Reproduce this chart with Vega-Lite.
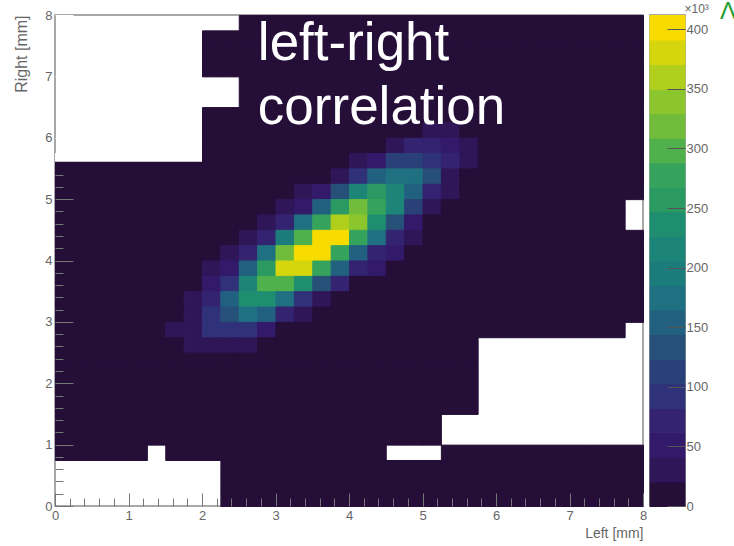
{"$schema":"https://vega.github.io/schema/vega-lite/v6.json","autosize":"none","padding":{"left":55,"top":15,"right":679,"bottom":531},"background":"white","config":{"font":"Liberation Sans","view":{"stroke":"#8c8c8c","strokeWidth":1.5}},"datasets":{"cells":[
{"l":2.5,"r":7.75,"n":5},{"l":2.75,"r":7.75,"n":5},{"l":3,"r":7.75,"n":5},{"l":3.25,"r":7.75,"n":5},{"l":3.5,"r":7.75,"n":5},{"l":3.75,"r":7.75,"n":5},{"l":4,"r":7.75,"n":5},{"l":4.25,"r":7.75,"n":5},{"l":4.5,"r":7.75,"n":5},{"l":4.75,"r":7.75,"n":5},{"l":5,"r":7.75,"n":5},{"l":5.25,"r":7.75,"n":5},{"l":5.5,"r":7.75,"n":5},{"l":5.75,"r":7.75,"n":5},{"l":6,"r":7.75,"n":5},{"l":6.25,"r":7.75,"n":5},{"l":6.5,"r":7.75,"n":5},{"l":6.75,"r":7.75,"n":5},{"l":7,"r":7.75,"n":5},{"l":7.25,"r":7.75,"n":5},{"l":7.5,"r":7.75,"n":5},{"l":7.75,"r":7.75,"n":5},
{"l":2,"r":7.5,"n":5},{"l":2.25,"r":7.5,"n":5},{"l":2.5,"r":7.5,"n":5},{"l":2.75,"r":7.5,"n":5},{"l":3,"r":7.5,"n":5},{"l":3.25,"r":7.5,"n":5},{"l":3.5,"r":7.5,"n":5},{"l":3.75,"r":7.5,"n":5},{"l":4,"r":7.5,"n":5},{"l":4.25,"r":7.5,"n":5},{"l":4.5,"r":7.5,"n":5},{"l":4.75,"r":7.5,"n":5},{"l":5,"r":7.5,"n":5},{"l":5.25,"r":7.5,"n":5},{"l":5.5,"r":7.5,"n":5},{"l":5.75,"r":7.5,"n":5},{"l":6,"r":7.5,"n":5},{"l":6.25,"r":7.5,"n":5},{"l":6.5,"r":7.5,"n":5},{"l":6.75,"r":7.5,"n":5},{"l":7,"r":7.5,"n":5},{"l":7.25,"r":7.5,"n":5},{"l":7.5,"r":7.5,"n":5},{"l":7.75,"r":7.5,"n":5},
{"l":2,"r":7.25,"n":5},{"l":2.25,"r":7.25,"n":5},{"l":2.5,"r":7.25,"n":5},{"l":2.75,"r":7.25,"n":5},{"l":3,"r":7.25,"n":5},{"l":3.25,"r":7.25,"n":5},{"l":3.5,"r":7.25,"n":5},{"l":3.75,"r":7.25,"n":5},{"l":4,"r":7.25,"n":5},{"l":4.25,"r":7.25,"n":5},{"l":4.5,"r":7.25,"n":5},{"l":4.75,"r":7.25,"n":5},{"l":5,"r":7.25,"n":5},{"l":5.25,"r":7.25,"n":5},{"l":5.5,"r":7.25,"n":5},{"l":5.75,"r":7.25,"n":5},{"l":6,"r":7.25,"n":5},{"l":6.25,"r":7.25,"n":5},{"l":6.5,"r":7.25,"n":5},{"l":6.75,"r":7.25,"n":5},{"l":7,"r":7.25,"n":5},{"l":7.25,"r":7.25,"n":5},{"l":7.5,"r":7.25,"n":5},{"l":7.75,"r":7.25,"n":5},
{"l":2,"r":7,"n":5},{"l":2.25,"r":7,"n":5},{"l":2.5,"r":7,"n":5},{"l":2.75,"r":7,"n":5},{"l":3,"r":7,"n":5},{"l":3.25,"r":7,"n":5},{"l":3.5,"r":7,"n":5},{"l":3.75,"r":7,"n":5},{"l":4,"r":7,"n":5},{"l":4.25,"r":7,"n":5},{"l":4.5,"r":7,"n":5},{"l":4.75,"r":7,"n":5},{"l":5,"r":7,"n":5},{"l":5.25,"r":7,"n":5},{"l":5.5,"r":7,"n":5},{"l":5.75,"r":7,"n":5},{"l":6,"r":7,"n":5},{"l":6.25,"r":7,"n":5},{"l":6.5,"r":7,"n":5},{"l":6.75,"r":7,"n":5},{"l":7,"r":7,"n":5},{"l":7.25,"r":7,"n":5},{"l":7.5,"r":7,"n":5},{"l":7.75,"r":7,"n":5},
{"l":2.5,"r":6.75,"n":5},{"l":2.75,"r":6.75,"n":5},{"l":3,"r":6.75,"n":5},{"l":3.25,"r":6.75,"n":5},{"l":3.5,"r":6.75,"n":5},{"l":3.75,"r":6.75,"n":5},{"l":4,"r":6.75,"n":5},{"l":4.25,"r":6.75,"n":5},{"l":4.5,"r":6.75,"n":5},{"l":4.75,"r":6.75,"n":5},{"l":5,"r":6.75,"n":5},{"l":5.25,"r":6.75,"n":5},{"l":5.5,"r":6.75,"n":5},{"l":5.75,"r":6.75,"n":5},{"l":6,"r":6.75,"n":5},{"l":6.25,"r":6.75,"n":5},{"l":6.5,"r":6.75,"n":5},{"l":6.75,"r":6.75,"n":5},{"l":7,"r":6.75,"n":5},{"l":7.25,"r":6.75,"n":5},{"l":7.5,"r":6.75,"n":5},{"l":7.75,"r":6.75,"n":5},
{"l":2.5,"r":6.5,"n":5},{"l":2.75,"r":6.5,"n":5},{"l":3,"r":6.5,"n":5},{"l":3.25,"r":6.5,"n":5},{"l":3.5,"r":6.5,"n":5},{"l":3.75,"r":6.5,"n":5},{"l":4,"r":6.5,"n":5},{"l":4.25,"r":6.5,"n":5},{"l":4.5,"r":6.5,"n":5},{"l":4.75,"r":6.5,"n":5},{"l":5,"r":6.5,"n":5},{"l":5.25,"r":6.5,"n":5},{"l":5.5,"r":6.5,"n":5},{"l":5.75,"r":6.5,"n":5},{"l":6,"r":6.5,"n":5},{"l":6.25,"r":6.5,"n":5},{"l":6.5,"r":6.5,"n":5},{"l":6.75,"r":6.5,"n":5},{"l":7,"r":6.5,"n":5},{"l":7.25,"r":6.5,"n":5},{"l":7.5,"r":6.5,"n":5},{"l":7.75,"r":6.5,"n":5},
{"l":2,"r":6.25,"n":5},{"l":2.25,"r":6.25,"n":5},{"l":2.5,"r":6.25,"n":5},{"l":2.75,"r":6.25,"n":5},{"l":3,"r":6.25,"n":5},{"l":3.25,"r":6.25,"n":5},{"l":3.5,"r":6.25,"n":5},{"l":3.75,"r":6.25,"n":5},{"l":4,"r":6.25,"n":5},{"l":4.25,"r":6.25,"n":5},{"l":4.5,"r":6.25,"n":5},{"l":4.75,"r":6.25,"n":5},{"l":5,"r":6.25,"n":5},{"l":5.25,"r":6.25,"n":5},{"l":5.5,"r":6.25,"n":5},{"l":5.75,"r":6.25,"n":5},{"l":6,"r":6.25,"n":5},{"l":6.25,"r":6.25,"n":5},{"l":6.5,"r":6.25,"n":5},{"l":6.75,"r":6.25,"n":5},{"l":7,"r":6.25,"n":5},{"l":7.25,"r":6.25,"n":5},{"l":7.5,"r":6.25,"n":5},{"l":7.75,"r":6.25,"n":5},
{"l":2,"r":6,"n":5},{"l":2.25,"r":6,"n":5},{"l":2.5,"r":6,"n":5},{"l":2.75,"r":6,"n":5},{"l":3,"r":6,"n":5},{"l":3.25,"r":6,"n":5},{"l":3.5,"r":6,"n":5},{"l":3.75,"r":6,"n":5},{"l":4,"r":6,"n":5},{"l":4.25,"r":6,"n":5},{"l":4.5,"r":6,"n":5},{"l":4.75,"r":6,"n":5},{"l":5,"r":6,"n":31},{"l":5.25,"r":6,"n":31},{"l":5.5,"r":6,"n":5},{"l":5.75,"r":6,"n":5},{"l":6,"r":6,"n":5},{"l":6.25,"r":6,"n":5},{"l":6.5,"r":6,"n":5},{"l":6.75,"r":6,"n":5},{"l":7,"r":6,"n":5},{"l":7.25,"r":6,"n":5},{"l":7.5,"r":6,"n":5},{"l":7.75,"r":6,"n":5},
{"l":2,"r":5.75,"n":5},{"l":2.25,"r":5.75,"n":5},{"l":2.5,"r":5.75,"n":5},{"l":2.75,"r":5.75,"n":5},{"l":3,"r":5.75,"n":5},{"l":3.25,"r":5.75,"n":5},{"l":3.5,"r":5.75,"n":5},{"l":3.75,"r":5.75,"n":5},{"l":4,"r":5.75,"n":5},{"l":4.25,"r":5.75,"n":5},{"l":4.5,"r":5.75,"n":31},{"l":4.75,"r":5.75,"n":72},{"l":5,"r":5.75,"n":72},{"l":5.25,"r":5.75,"n":51},{"l":5.5,"r":5.75,"n":31},{"l":5.75,"r":5.75,"n":5},{"l":6,"r":5.75,"n":5},{"l":6.25,"r":5.75,"n":5},{"l":6.5,"r":5.75,"n":5},{"l":6.75,"r":5.75,"n":5},{"l":7,"r":5.75,"n":5},{"l":7.25,"r":5.75,"n":5},{"l":7.5,"r":5.75,"n":5},{"l":7.75,"r":5.75,"n":5},
{"l":0,"r":5.5,"n":5},{"l":0.25,"r":5.5,"n":5},{"l":0.5,"r":5.5,"n":5},{"l":0.75,"r":5.5,"n":5},{"l":1,"r":5.5,"n":5},{"l":1.25,"r":5.5,"n":5},{"l":1.5,"r":5.5,"n":5},{"l":1.75,"r":5.5,"n":5},{"l":2,"r":5.5,"n":5},{"l":2.25,"r":5.5,"n":5},{"l":2.5,"r":5.5,"n":5},{"l":2.75,"r":5.5,"n":5},{"l":3,"r":5.5,"n":5},{"l":3.25,"r":5.5,"n":5},{"l":3.5,"r":5.5,"n":5},{"l":3.75,"r":5.5,"n":5},{"l":4,"r":5.5,"n":31},{"l":4.25,"r":5.5,"n":51},{"l":4.5,"r":5.5,"n":113},{"l":4.75,"r":5.5,"n":113},{"l":5,"r":5.5,"n":92},{"l":5.25,"r":5.5,"n":72},{"l":5.5,"r":5.5,"n":31},{"l":5.75,"r":5.5,"n":5},{"l":6,"r":5.5,"n":5},{"l":6.25,"r":5.5,"n":5},{"l":6.5,"r":5.5,"n":5},{"l":6.75,"r":5.5,"n":5},{"l":7,"r":5.5,"n":5},{"l":7.25,"r":5.5,"n":5},{"l":7.5,"r":5.5,"n":5},{"l":7.75,"r":5.5,"n":5},
{"l":0,"r":5.25,"n":5},{"l":0.25,"r":5.25,"n":5},{"l":0.5,"r":5.25,"n":5},{"l":0.75,"r":5.25,"n":5},{"l":1,"r":5.25,"n":5},{"l":1.25,"r":5.25,"n":5},{"l":1.5,"r":5.25,"n":5},{"l":1.75,"r":5.25,"n":5},{"l":2,"r":5.25,"n":5},{"l":2.25,"r":5.25,"n":5},{"l":2.5,"r":5.25,"n":5},{"l":2.75,"r":5.25,"n":5},{"l":3,"r":5.25,"n":5},{"l":3.25,"r":5.25,"n":5},{"l":3.5,"r":5.25,"n":5},{"l":3.75,"r":5.25,"n":31},{"l":4,"r":5.25,"n":92},{"l":4.25,"r":5.25,"n":154},{"l":4.5,"r":5.25,"n":175},{"l":4.75,"r":5.25,"n":175},{"l":5,"r":5.25,"n":134},{"l":5.25,"r":5.25,"n":31},{"l":5.5,"r":5.25,"n":5},{"l":5.75,"r":5.25,"n":5},{"l":6,"r":5.25,"n":5},{"l":6.25,"r":5.25,"n":5},{"l":6.5,"r":5.25,"n":5},{"l":6.75,"r":5.25,"n":5},{"l":7,"r":5.25,"n":5},{"l":7.25,"r":5.25,"n":5},{"l":7.5,"r":5.25,"n":5},{"l":7.75,"r":5.25,"n":5},
{"l":0,"r":5,"n":5},{"l":0.25,"r":5,"n":5},{"l":0.5,"r":5,"n":5},{"l":0.75,"r":5,"n":5},{"l":1,"r":5,"n":5},{"l":1.25,"r":5,"n":5},{"l":1.5,"r":5,"n":5},{"l":1.75,"r":5,"n":5},{"l":2,"r":5,"n":5},{"l":2.25,"r":5,"n":5},{"l":2.5,"r":5,"n":5},{"l":2.75,"r":5,"n":5},{"l":3,"r":5,"n":5},{"l":3.25,"r":5,"n":31},{"l":3.5,"r":5,"n":51},{"l":3.75,"r":5,"n":134},{"l":4,"r":5,"n":216},{"l":4.25,"r":5,"n":257},{"l":4.5,"r":5,"n":216},{"l":4.75,"r":5,"n":154},{"l":5,"r":5,"n":72},{"l":5.25,"r":5,"n":31},{"l":5.5,"r":5,"n":5},{"l":5.75,"r":5,"n":5},{"l":6,"r":5,"n":5},{"l":6.25,"r":5,"n":5},{"l":6.5,"r":5,"n":5},{"l":6.75,"r":5,"n":5},{"l":7,"r":5,"n":5},{"l":7.25,"r":5,"n":5},{"l":7.5,"r":5,"n":5},{"l":7.75,"r":5,"n":5},
{"l":0,"r":4.75,"n":5},{"l":0.25,"r":4.75,"n":5},{"l":0.5,"r":4.75,"n":5},{"l":0.75,"r":4.75,"n":5},{"l":1,"r":4.75,"n":5},{"l":1.25,"r":4.75,"n":5},{"l":1.5,"r":4.75,"n":5},{"l":1.75,"r":4.75,"n":5},{"l":2,"r":4.75,"n":5},{"l":2.25,"r":4.75,"n":5},{"l":2.5,"r":4.75,"n":5},{"l":2.75,"r":4.75,"n":5},{"l":3,"r":4.75,"n":31},{"l":3.25,"r":4.75,"n":51},{"l":3.5,"r":4.75,"n":154},{"l":3.75,"r":4.75,"n":257},{"l":4,"r":4.75,"n":319},{"l":4.25,"r":4.75,"n":278},{"l":4.5,"r":4.75,"n":216},{"l":4.75,"r":4.75,"n":113},{"l":5,"r":4.75,"n":31},{"l":5.25,"r":4.75,"n":5},{"l":5.5,"r":4.75,"n":5},{"l":5.75,"r":4.75,"n":5},{"l":6,"r":4.75,"n":5},{"l":6.25,"r":4.75,"n":5},{"l":6.5,"r":4.75,"n":5},{"l":6.75,"r":4.75,"n":5},{"l":7,"r":4.75,"n":5},{"l":7.25,"r":4.75,"n":5},{"l":7.5,"r":4.75,"n":5},
{"l":0,"r":4.5,"n":5},{"l":0.25,"r":4.5,"n":5},{"l":0.5,"r":4.5,"n":5},{"l":0.75,"r":4.5,"n":5},{"l":1,"r":4.5,"n":5},{"l":1.25,"r":4.5,"n":5},{"l":1.5,"r":4.5,"n":5},{"l":1.75,"r":4.5,"n":5},{"l":2,"r":4.5,"n":5},{"l":2.25,"r":4.5,"n":5},{"l":2.5,"r":4.5,"n":5},{"l":2.75,"r":4.5,"n":31},{"l":3,"r":4.5,"n":72},{"l":3.25,"r":4.5,"n":175},{"l":3.5,"r":4.5,"n":278},{"l":3.75,"r":4.5,"n":360},{"l":4,"r":4.5,"n":340},{"l":4.25,"r":4.5,"n":237},{"l":4.5,"r":4.5,"n":134},{"l":4.75,"r":4.5,"n":51},{"l":5,"r":4.5,"n":5},{"l":5.25,"r":4.5,"n":5},{"l":5.5,"r":4.5,"n":5},{"l":5.75,"r":4.5,"n":5},{"l":6,"r":4.5,"n":5},{"l":6.25,"r":4.5,"n":5},{"l":6.5,"r":4.5,"n":5},{"l":6.75,"r":4.5,"n":5},{"l":7,"r":4.5,"n":5},{"l":7.25,"r":4.5,"n":5},{"l":7.5,"r":4.5,"n":5},
{"l":0,"r":4.25,"n":5},{"l":0.25,"r":4.25,"n":5},{"l":0.5,"r":4.25,"n":5},{"l":0.75,"r":4.25,"n":5},{"l":1,"r":4.25,"n":5},{"l":1.25,"r":4.25,"n":5},{"l":1.5,"r":4.25,"n":5},{"l":1.75,"r":4.25,"n":5},{"l":2,"r":4.25,"n":5},{"l":2.25,"r":4.25,"n":5},{"l":2.5,"r":4.25,"n":31},{"l":2.75,"r":4.25,"n":72},{"l":3,"r":4.25,"n":195},{"l":3.25,"r":4.25,"n":298},{"l":3.5,"r":4.25,"n":401},{"l":3.75,"r":4.25,"n":401},{"l":4,"r":4.25,"n":278},{"l":4.25,"r":4.25,"n":175},{"l":4.5,"r":4.25,"n":72},{"l":4.75,"r":4.25,"n":31},{"l":5,"r":4.25,"n":5},{"l":5.25,"r":4.25,"n":5},{"l":5.5,"r":4.25,"n":5},{"l":5.75,"r":4.25,"n":5},{"l":6,"r":4.25,"n":5},{"l":6.25,"r":4.25,"n":5},{"l":6.5,"r":4.25,"n":5},{"l":6.75,"r":4.25,"n":5},{"l":7,"r":4.25,"n":5},{"l":7.25,"r":4.25,"n":5},{"l":7.5,"r":4.25,"n":5},{"l":7.75,"r":4.25,"n":5},
{"l":0,"r":4,"n":5},{"l":0.25,"r":4,"n":5},{"l":0.5,"r":4,"n":5},{"l":0.75,"r":4,"n":5},{"l":1,"r":4,"n":5},{"l":1.25,"r":4,"n":5},{"l":1.5,"r":4,"n":5},{"l":1.75,"r":4,"n":5},{"l":2,"r":4,"n":5},{"l":2.25,"r":4,"n":31},{"l":2.5,"r":4,"n":72},{"l":2.75,"r":4,"n":175},{"l":3,"r":4,"n":319},{"l":3.25,"r":4,"n":401},{"l":3.5,"r":4,"n":401},{"l":3.75,"r":4,"n":278},{"l":4,"r":4,"n":154},{"l":4.25,"r":4,"n":72},{"l":4.5,"r":4,"n":51},{"l":4.75,"r":4,"n":5},{"l":5,"r":4,"n":5},{"l":5.25,"r":4,"n":5},{"l":5.5,"r":4,"n":5},{"l":5.75,"r":4,"n":5},{"l":6,"r":4,"n":5},{"l":6.25,"r":4,"n":5},{"l":6.5,"r":4,"n":5},{"l":6.75,"r":4,"n":5},{"l":7,"r":4,"n":5},{"l":7.25,"r":4,"n":5},{"l":7.5,"r":4,"n":5},{"l":7.75,"r":4,"n":5},
{"l":0,"r":3.75,"n":5},{"l":0.25,"r":3.75,"n":5},{"l":0.5,"r":3.75,"n":5},{"l":0.75,"r":3.75,"n":5},{"l":1,"r":3.75,"n":5},{"l":1.25,"r":3.75,"n":5},{"l":1.5,"r":3.75,"n":5},{"l":1.75,"r":3.75,"n":5},{"l":2,"r":3.75,"n":31},{"l":2.25,"r":3.75,"n":51},{"l":2.5,"r":3.75,"n":154},{"l":2.75,"r":3.75,"n":257},{"l":3,"r":3.75,"n":381},{"l":3.25,"r":3.75,"n":381},{"l":3.5,"r":3.75,"n":278},{"l":3.75,"r":3.75,"n":154},{"l":4,"r":3.75,"n":72},{"l":4.25,"r":3.75,"n":51},{"l":4.5,"r":3.75,"n":5},{"l":4.75,"r":3.75,"n":5},{"l":5,"r":3.75,"n":5},{"l":5.25,"r":3.75,"n":5},{"l":5.5,"r":3.75,"n":5},{"l":5.75,"r":3.75,"n":5},{"l":6,"r":3.75,"n":5},{"l":6.25,"r":3.75,"n":5},{"l":6.5,"r":3.75,"n":5},{"l":6.75,"r":3.75,"n":5},{"l":7,"r":3.75,"n":5},{"l":7.25,"r":3.75,"n":5},{"l":7.5,"r":3.75,"n":5},{"l":7.75,"r":3.75,"n":5},
{"l":0,"r":3.5,"n":5},{"l":0.25,"r":3.5,"n":5},{"l":0.5,"r":3.5,"n":5},{"l":0.75,"r":3.5,"n":5},{"l":1,"r":3.5,"n":5},{"l":1.25,"r":3.5,"n":5},{"l":1.5,"r":3.5,"n":5},{"l":1.75,"r":3.5,"n":5},{"l":2,"r":3.5,"n":51},{"l":2.25,"r":3.5,"n":92},{"l":2.5,"r":3.5,"n":216},{"l":2.75,"r":3.5,"n":298},{"l":3,"r":3.5,"n":298},{"l":3.25,"r":3.5,"n":237},{"l":3.5,"r":3.5,"n":134},{"l":3.75,"r":3.5,"n":72},{"l":4,"r":3.5,"n":5},{"l":4.25,"r":3.5,"n":5},{"l":4.5,"r":3.5,"n":5},{"l":4.75,"r":3.5,"n":5},{"l":5,"r":3.5,"n":5},{"l":5.25,"r":3.5,"n":5},{"l":5.5,"r":3.5,"n":5},{"l":5.75,"r":3.5,"n":5},{"l":6,"r":3.5,"n":5},{"l":6.25,"r":3.5,"n":5},{"l":6.5,"r":3.5,"n":5},{"l":6.75,"r":3.5,"n":5},{"l":7,"r":3.5,"n":5},{"l":7.25,"r":3.5,"n":5},{"l":7.5,"r":3.5,"n":5},{"l":7.75,"r":3.5,"n":5},
{"l":0,"r":3.25,"n":5},{"l":0.25,"r":3.25,"n":5},{"l":0.5,"r":3.25,"n":5},{"l":0.75,"r":3.25,"n":5},{"l":1,"r":3.25,"n":5},{"l":1.25,"r":3.25,"n":5},{"l":1.5,"r":3.25,"n":5},{"l":1.75,"r":3.25,"n":31},{"l":2,"r":3.25,"n":72},{"l":2.25,"r":3.25,"n":154},{"l":2.5,"r":3.25,"n":237},{"l":2.75,"r":3.25,"n":237},{"l":3,"r":3.25,"n":175},{"l":3.25,"r":3.25,"n":92},{"l":3.5,"r":3.25,"n":31},{"l":3.75,"r":3.25,"n":5},{"l":4,"r":3.25,"n":5},{"l":4.25,"r":3.25,"n":5},{"l":4.5,"r":3.25,"n":5},{"l":4.75,"r":3.25,"n":5},{"l":5,"r":3.25,"n":5},{"l":5.25,"r":3.25,"n":5},{"l":5.5,"r":3.25,"n":5},{"l":5.75,"r":3.25,"n":5},{"l":6,"r":3.25,"n":5},{"l":6.25,"r":3.25,"n":5},{"l":6.5,"r":3.25,"n":5},{"l":6.75,"r":3.25,"n":5},{"l":7,"r":3.25,"n":5},{"l":7.25,"r":3.25,"n":5},{"l":7.5,"r":3.25,"n":5},{"l":7.75,"r":3.25,"n":5},
{"l":0,"r":3,"n":5},{"l":0.25,"r":3,"n":5},{"l":0.5,"r":3,"n":5},{"l":0.75,"r":3,"n":5},{"l":1,"r":3,"n":5},{"l":1.25,"r":3,"n":5},{"l":1.5,"r":3,"n":5},{"l":1.75,"r":3,"n":31},{"l":2,"r":3,"n":92},{"l":2.25,"r":3,"n":134},{"l":2.5,"r":3,"n":175},{"l":2.75,"r":3,"n":154},{"l":3,"r":3,"n":72},{"l":3.25,"r":3,"n":31},{"l":3.5,"r":3,"n":5},{"l":3.75,"r":3,"n":5},{"l":4,"r":3,"n":5},{"l":4.25,"r":3,"n":5},{"l":4.5,"r":3,"n":5},{"l":4.75,"r":3,"n":5},{"l":5,"r":3,"n":5},{"l":5.25,"r":3,"n":5},{"l":5.5,"r":3,"n":5},{"l":5.75,"r":3,"n":5},{"l":6,"r":3,"n":5},{"l":6.25,"r":3,"n":5},{"l":6.5,"r":3,"n":5},{"l":6.75,"r":3,"n":5},{"l":7,"r":3,"n":5},{"l":7.25,"r":3,"n":5},{"l":7.5,"r":3,"n":5},{"l":7.75,"r":3,"n":5},
{"l":0,"r":2.75,"n":5},{"l":0.25,"r":2.75,"n":5},{"l":0.5,"r":2.75,"n":5},{"l":0.75,"r":2.75,"n":5},{"l":1,"r":2.75,"n":5},{"l":1.25,"r":2.75,"n":5},{"l":1.5,"r":2.75,"n":31},{"l":1.75,"r":2.75,"n":31},{"l":2,"r":2.75,"n":92},{"l":2.25,"r":2.75,"n":92},{"l":2.5,"r":2.75,"n":92},{"l":2.75,"r":2.75,"n":51},{"l":3,"r":2.75,"n":5},{"l":3.25,"r":2.75,"n":5},{"l":3.5,"r":2.75,"n":5},{"l":3.75,"r":2.75,"n":5},{"l":4,"r":2.75,"n":5},{"l":4.25,"r":2.75,"n":5},{"l":4.5,"r":2.75,"n":5},{"l":4.75,"r":2.75,"n":5},{"l":5,"r":2.75,"n":5},{"l":5.25,"r":2.75,"n":5},{"l":5.5,"r":2.75,"n":5},{"l":5.75,"r":2.75,"n":5},{"l":6,"r":2.75,"n":5},{"l":6.25,"r":2.75,"n":5},{"l":6.5,"r":2.75,"n":5},{"l":6.75,"r":2.75,"n":5},{"l":7,"r":2.75,"n":5},{"l":7.25,"r":2.75,"n":5},{"l":7.5,"r":2.75,"n":5},
{"l":0,"r":2.5,"n":5},{"l":0.25,"r":2.5,"n":5},{"l":0.5,"r":2.5,"n":5},{"l":0.75,"r":2.5,"n":5},{"l":1,"r":2.5,"n":5},{"l":1.25,"r":2.5,"n":5},{"l":1.5,"r":2.5,"n":5},{"l":1.75,"r":2.5,"n":31},{"l":2,"r":2.5,"n":31},{"l":2.25,"r":2.5,"n":31},{"l":2.5,"r":2.5,"n":31},{"l":2.75,"r":2.5,"n":5},{"l":3,"r":2.5,"n":5},{"l":3.25,"r":2.5,"n":5},{"l":3.5,"r":2.5,"n":5},{"l":3.75,"r":2.5,"n":5},{"l":4,"r":2.5,"n":5},{"l":4.25,"r":2.5,"n":5},{"l":4.5,"r":2.5,"n":5},{"l":4.75,"r":2.5,"n":5},{"l":5,"r":2.5,"n":5},{"l":5.25,"r":2.5,"n":5},{"l":5.5,"r":2.5,"n":5},
{"l":0,"r":2.25,"n":5},{"l":0.25,"r":2.25,"n":5},{"l":0.5,"r":2.25,"n":5},{"l":0.75,"r":2.25,"n":5},{"l":1,"r":2.25,"n":5},{"l":1.25,"r":2.25,"n":5},{"l":1.5,"r":2.25,"n":5},{"l":1.75,"r":2.25,"n":5},{"l":2,"r":2.25,"n":5},{"l":2.25,"r":2.25,"n":5},{"l":2.5,"r":2.25,"n":5},{"l":2.75,"r":2.25,"n":5},{"l":3,"r":2.25,"n":5},{"l":3.25,"r":2.25,"n":5},{"l":3.5,"r":2.25,"n":5},{"l":3.75,"r":2.25,"n":5},{"l":4,"r":2.25,"n":5},{"l":4.25,"r":2.25,"n":5},{"l":4.5,"r":2.25,"n":5},{"l":4.75,"r":2.25,"n":5},{"l":5,"r":2.25,"n":5},{"l":5.25,"r":2.25,"n":5},{"l":5.5,"r":2.25,"n":5},
{"l":0,"r":2,"n":5},{"l":0.25,"r":2,"n":5},{"l":0.5,"r":2,"n":5},{"l":0.75,"r":2,"n":5},{"l":1,"r":2,"n":5},{"l":1.25,"r":2,"n":5},{"l":1.5,"r":2,"n":5},{"l":1.75,"r":2,"n":5},{"l":2,"r":2,"n":5},{"l":2.25,"r":2,"n":5},{"l":2.5,"r":2,"n":5},{"l":2.75,"r":2,"n":5},{"l":3,"r":2,"n":5},{"l":3.25,"r":2,"n":5},{"l":3.5,"r":2,"n":5},{"l":3.75,"r":2,"n":5},{"l":4,"r":2,"n":5},{"l":4.25,"r":2,"n":5},{"l":4.5,"r":2,"n":5},{"l":4.75,"r":2,"n":5},{"l":5,"r":2,"n":5},{"l":5.25,"r":2,"n":5},{"l":5.5,"r":2,"n":5},
{"l":0,"r":1.75,"n":5},{"l":0.25,"r":1.75,"n":5},{"l":0.5,"r":1.75,"n":5},{"l":0.75,"r":1.75,"n":5},{"l":1,"r":1.75,"n":5},{"l":1.25,"r":1.75,"n":5},{"l":1.5,"r":1.75,"n":5},{"l":1.75,"r":1.75,"n":5},{"l":2,"r":1.75,"n":5},{"l":2.25,"r":1.75,"n":5},{"l":2.5,"r":1.75,"n":5},{"l":2.75,"r":1.75,"n":5},{"l":3,"r":1.75,"n":5},{"l":3.25,"r":1.75,"n":5},{"l":3.5,"r":1.75,"n":5},{"l":3.75,"r":1.75,"n":5},{"l":4,"r":1.75,"n":5},{"l":4.25,"r":1.75,"n":5},{"l":4.5,"r":1.75,"n":5},{"l":4.75,"r":1.75,"n":5},{"l":5,"r":1.75,"n":5},{"l":5.25,"r":1.75,"n":5},{"l":5.5,"r":1.75,"n":5},
{"l":0,"r":1.5,"n":5},{"l":0.25,"r":1.5,"n":5},{"l":0.5,"r":1.5,"n":5},{"l":0.75,"r":1.5,"n":5},{"l":1,"r":1.5,"n":5},{"l":1.25,"r":1.5,"n":5},{"l":1.5,"r":1.5,"n":5},{"l":1.75,"r":1.5,"n":5},{"l":2,"r":1.5,"n":5},{"l":2.25,"r":1.5,"n":5},{"l":2.5,"r":1.5,"n":5},{"l":2.75,"r":1.5,"n":5},{"l":3,"r":1.5,"n":5},{"l":3.25,"r":1.5,"n":5},{"l":3.5,"r":1.5,"n":5},{"l":3.75,"r":1.5,"n":5},{"l":4,"r":1.5,"n":5},{"l":4.25,"r":1.5,"n":5},{"l":4.5,"r":1.5,"n":5},{"l":4.75,"r":1.5,"n":5},{"l":5,"r":1.5,"n":5},{"l":5.25,"r":1.5,"n":5},{"l":5.5,"r":1.5,"n":5},
{"l":0,"r":1.25,"n":5},{"l":0.25,"r":1.25,"n":5},{"l":0.5,"r":1.25,"n":5},{"l":0.75,"r":1.25,"n":5},{"l":1,"r":1.25,"n":5},{"l":1.25,"r":1.25,"n":5},{"l":1.5,"r":1.25,"n":5},{"l":1.75,"r":1.25,"n":5},{"l":2,"r":1.25,"n":5},{"l":2.25,"r":1.25,"n":5},{"l":2.5,"r":1.25,"n":5},{"l":2.75,"r":1.25,"n":5},{"l":3,"r":1.25,"n":5},{"l":3.25,"r":1.25,"n":5},{"l":3.5,"r":1.25,"n":5},{"l":3.75,"r":1.25,"n":5},{"l":4,"r":1.25,"n":5},{"l":4.25,"r":1.25,"n":5},{"l":4.5,"r":1.25,"n":5},{"l":4.75,"r":1.25,"n":5},{"l":5,"r":1.25,"n":5},
{"l":0,"r":1,"n":5},{"l":0.25,"r":1,"n":5},{"l":0.5,"r":1,"n":5},{"l":0.75,"r":1,"n":5},{"l":1,"r":1,"n":5},{"l":1.25,"r":1,"n":5},{"l":1.5,"r":1,"n":5},{"l":1.75,"r":1,"n":5},{"l":2,"r":1,"n":5},{"l":2.25,"r":1,"n":5},{"l":2.5,"r":1,"n":5},{"l":2.75,"r":1,"n":5},{"l":3,"r":1,"n":5},{"l":3.25,"r":1,"n":5},{"l":3.5,"r":1,"n":5},{"l":3.75,"r":1,"n":5},{"l":4,"r":1,"n":5},{"l":4.25,"r":1,"n":5},{"l":4.5,"r":1,"n":5},{"l":4.75,"r":1,"n":5},{"l":5,"r":1,"n":5},
{"l":0,"r":0.75,"n":5},{"l":0.25,"r":0.75,"n":5},{"l":0.5,"r":0.75,"n":5},{"l":0.75,"r":0.75,"n":5},{"l":1,"r":0.75,"n":5},{"l":1.5,"r":0.75,"n":5},{"l":1.75,"r":0.75,"n":5},{"l":2,"r":0.75,"n":5},{"l":2.25,"r":0.75,"n":5},{"l":2.5,"r":0.75,"n":5},{"l":2.75,"r":0.75,"n":5},{"l":3,"r":0.75,"n":5},{"l":3.25,"r":0.75,"n":5},{"l":3.5,"r":0.75,"n":5},{"l":3.75,"r":0.75,"n":5},{"l":4,"r":0.75,"n":5},{"l":4.25,"r":0.75,"n":5},{"l":5.25,"r":0.75,"n":5},{"l":5.5,"r":0.75,"n":5},{"l":5.75,"r":0.75,"n":5},{"l":6,"r":0.75,"n":5},{"l":6.25,"r":0.75,"n":5},{"l":6.5,"r":0.75,"n":5},{"l":6.75,"r":0.75,"n":5},{"l":7,"r":0.75,"n":5},{"l":7.25,"r":0.75,"n":5},{"l":7.5,"r":0.75,"n":5},{"l":7.75,"r":0.75,"n":5},
{"l":2.25,"r":0.5,"n":5},{"l":2.5,"r":0.5,"n":5},{"l":2.75,"r":0.5,"n":5},{"l":3,"r":0.5,"n":5},{"l":3.25,"r":0.5,"n":5},{"l":3.5,"r":0.5,"n":5},{"l":3.75,"r":0.5,"n":5},{"l":4,"r":0.5,"n":5},{"l":4.25,"r":0.5,"n":5},{"l":4.5,"r":0.5,"n":5},{"l":4.75,"r":0.5,"n":5},{"l":5,"r":0.5,"n":5},{"l":5.25,"r":0.5,"n":5},{"l":5.5,"r":0.5,"n":5},{"l":5.75,"r":0.5,"n":5},{"l":6,"r":0.5,"n":5},{"l":6.25,"r":0.5,"n":5},{"l":6.5,"r":0.5,"n":5},{"l":6.75,"r":0.5,"n":5},{"l":7,"r":0.5,"n":5},{"l":7.25,"r":0.5,"n":5},{"l":7.5,"r":0.5,"n":5},{"l":7.75,"r":0.5,"n":5},
{"l":2.25,"r":0.25,"n":5},{"l":2.5,"r":0.25,"n":5},{"l":2.75,"r":0.25,"n":5},{"l":3,"r":0.25,"n":5},{"l":3.25,"r":0.25,"n":5},{"l":3.5,"r":0.25,"n":5},{"l":3.75,"r":0.25,"n":5},{"l":4,"r":0.25,"n":5},{"l":4.25,"r":0.25,"n":5},{"l":4.5,"r":0.25,"n":5},{"l":4.75,"r":0.25,"n":5},{"l":5,"r":0.25,"n":5},{"l":5.25,"r":0.25,"n":5},{"l":5.5,"r":0.25,"n":5},{"l":5.75,"r":0.25,"n":5},{"l":6,"r":0.25,"n":5},{"l":6.25,"r":0.25,"n":5},{"l":6.5,"r":0.25,"n":5},{"l":6.75,"r":0.25,"n":5},{"l":7,"r":0.25,"n":5},{"l":7.25,"r":0.25,"n":5},{"l":7.5,"r":0.25,"n":5},{"l":7.75,"r":0.25,"n":5},
{"l":2.25,"r":0,"n":5},{"l":2.5,"r":0,"n":5},{"l":2.75,"r":0,"n":5},{"l":3,"r":0,"n":5},{"l":3.25,"r":0,"n":5},{"l":3.5,"r":0,"n":5},{"l":3.75,"r":0,"n":5},{"l":4,"r":0,"n":5},{"l":4.25,"r":0,"n":5},{"l":4.5,"r":0,"n":5},{"l":4.75,"r":0,"n":5},{"l":5,"r":0,"n":5},{"l":5.25,"r":0,"n":5},{"l":5.5,"r":0,"n":5},{"l":5.75,"r":0,"n":5},{"l":6,"r":0,"n":5},{"l":6.25,"r":0,"n":5},{"l":6.5,"r":0,"n":5},{"l":6.75,"r":0,"n":5},{"l":7,"r":0,"n":5},{"l":7.25,"r":0,"n":5},{"l":7.5,"r":0,"n":5},{"l":7.75,"r":0,"n":5}
],"bar":[{"v":10},{"v":31},{"v":51},{"v":72},{"v":92},{"v":113},{"v":134},{"v":154},{"v":175},{"v":195},{"v":216},{"v":237},{"v":257},{"v":278},{"v":298},{"v":319},{"v":340},{"v":360},{"v":381},{"v":401}],"mask":[{"x0":0,"x1":2,"y0":5.61,"y1":5.75}],"labels":[{"t":"left-right","x":2.76,"y":7.26},{"t":"correlation","x":2.76,"y":6.22}],"scaleNote":[{"t":"Λ","x":2,"v":409}]},"spacing":0,"hconcat":[{"width":588,"height":491,"layer":[{"data":{"name":"cells"},"mark":{"type":"rect","strokeWidth":1},"encoding":{"x":{"field":"l","type":"quantitative","bin":{"step":0.25,"extent":[0,8]},"scale":{"domain":[0,8],"nice":false,"zero":false},"axis":{"orient":"bottom","title":"Left [mm]","values":[0,1,2,3,4,5,6,7,8],"format":"d","grid":false,"domain":false,"tickSize":-13,"tickColor":"#777","labelColor":"#666","labelFontSize":13,"labelPadding":16,"labelFlush":false,"titleColor":"#666","titleFontSize":14,"titleFontWeight":"normal","titleAnchor":"end","titlePadding":4,"zindex":1}},"y":{"field":"r","type":"quantitative","bin":{"step":0.25,"extent":[0,8]},"scale":{"domain":[0,8],"nice":false,"zero":false},"axis":{"orient":"left","title":"Right [mm]","values":[0,1,2,3,4,5,6,7,8],"format":"d","grid":false,"domain":false,"tickSize":-18,"tickColor":{"condition":{"test":"datum.value>=6","value":"white"},"value":"#777"},"labelColor":"#666","labelFontSize":13,"labelPadding":21,"labelFlush":false,"titleColor":"#666","titleFontSize":16,"titleFontWeight":"normal","titleAnchor":"end","titlePadding":15,"zindex":1}},"color":{"field":"n","type":"quantitative","legend":null,"scale":{"type":"quantize","domain":[0,412],"nice":false,"range":["#250e37","#2f1659","#33196a","#332370","#2f3278","#2a4079","#265078","#226080","#1f7080","#1c7c7c","#1c8578","#1f8e70","#2a9a62","#36a35c","#50b04c","#72bc3c","#8cc62e","#b0cf1c","#d6d60e","#f8dc00"]}},"stroke":{"field":"n","type":"quantitative","legend":null,"scale":{"type":"quantize","domain":[0,412],"nice":false,"range":["#250e37","#2f1659","#33196a","#332370","#2f3278","#2a4079","#265078","#226080","#1f7080","#1c7c7c","#1c8578","#1f8e70","#2a9a62","#36a35c","#50b04c","#72bc3c","#8cc62e","#b0cf1c","#d6d60e","#f8dc00"]}}}},{"data":{"name":"mask"},"mark":{"type":"rect","color":"white"},"encoding":{"x":{"field":"x0","type":"quantitative","axis":{"orient":"bottom","title":null,"values":[0.2,0.4,0.6,0.8,1.2,1.4,1.6,1.8,2.2,2.4,2.6,2.8,3.2,3.4,3.6,3.8,4.2,4.4,4.6,4.8,5.2,5.4,5.6,5.8,6.2,6.4,6.6,6.8,7.2,7.4,7.6,7.8],"labels":false,"grid":false,"domain":false,"tickSize":-8,"tickColor":"#777","zindex":1}},"x2":{"field":"x1"},"y":{"field":"y0","type":"quantitative","axis":{"orient":"left","title":null,"values":[0.2,0.4,0.6,0.8,1.2,1.4,1.6,1.8,2.2,2.4,2.6,2.8,3.2,3.4,3.6,3.8,4.2,4.4,4.6,4.8,5.2,5.4],"labels":false,"grid":false,"domain":false,"tickSize":-8,"tickColor":"#777","zindex":1}},"y2":{"field":"y1"}}},{"data":{"name":"labels"},"mark":{"type":"text","align":"left","baseline":"alphabetic","color":"white","font":"Liberation Sans","fontSize":53},"encoding":{"x":{"field":"x","type":"quantitative","axis":null},"y":{"field":"y","type":"quantitative","axis":null},"text":{"field":"t"}}}],"resolve":{"axis":{"x":"independent","y":"independent"}}},{"width":35,"height":491,"layer":[{"data":{"name":"bar"},"mark":{"type":"rect","strokeWidth":1},"encoding":{"y":{"field":"v","type":"quantitative","bin":{"step":20.6,"extent":[0,412]},"scale":{"domain":[0,412],"nice":false,"zero":false},"axis":{"orient":"right","title":"×10³","titleAngle":0,"titleAlign":"left","titleBaseline":"middle","titleFontSize":12,"titleFontWeight":"normal","titleColor":"#666","titleX":-1,"titleY":-7,"values":[0,50,100,150,200,250,300,350,400],"grid":false,"domain":false,"tickSize":-18,"tickColor":"#555","labelColor":"#666","labelFontSize":13,"labelPadding":19,"labelFlush":false,"zindex":1}},"color":{"field":"v","type":"quantitative","legend":null,"scale":{"type":"quantize","domain":[0,412],"nice":false,"range":["#250e37","#2f1659","#33196a","#332370","#2f3278","#2a4079","#265078","#226080","#1f7080","#1c7c7c","#1c8578","#1f8e70","#2a9a62","#36a35c","#50b04c","#72bc3c","#8cc62e","#b0cf1c","#d6d60e","#f8dc00"]}},"stroke":{"field":"v","type":"quantitative","legend":null,"scale":{"type":"quantize","domain":[0,412],"nice":false,"range":["#250e37","#2f1659","#33196a","#332370","#2f3278","#2a4079","#265078","#226080","#1f7080","#1c7c7c","#1c8578","#1f8e70","#2a9a62","#36a35c","#50b04c","#72bc3c","#8cc62e","#b0cf1c","#d6d60e","#f8dc00"]}}}},{"data":{"name":"scaleNote"},"mark":{"type":"text","align":"left","baseline":"alphabetic","color":"#1f9e2f","font":"Liberation Sans","fontSize":24},"encoding":{"x":{"field":"x","type":"quantitative","axis":null,"scale":{"domain":[0,1],"nice":false,"zero":false}},"y":{"field":"v","type":"quantitative"},"text":{"field":"t"}}}]}]}
